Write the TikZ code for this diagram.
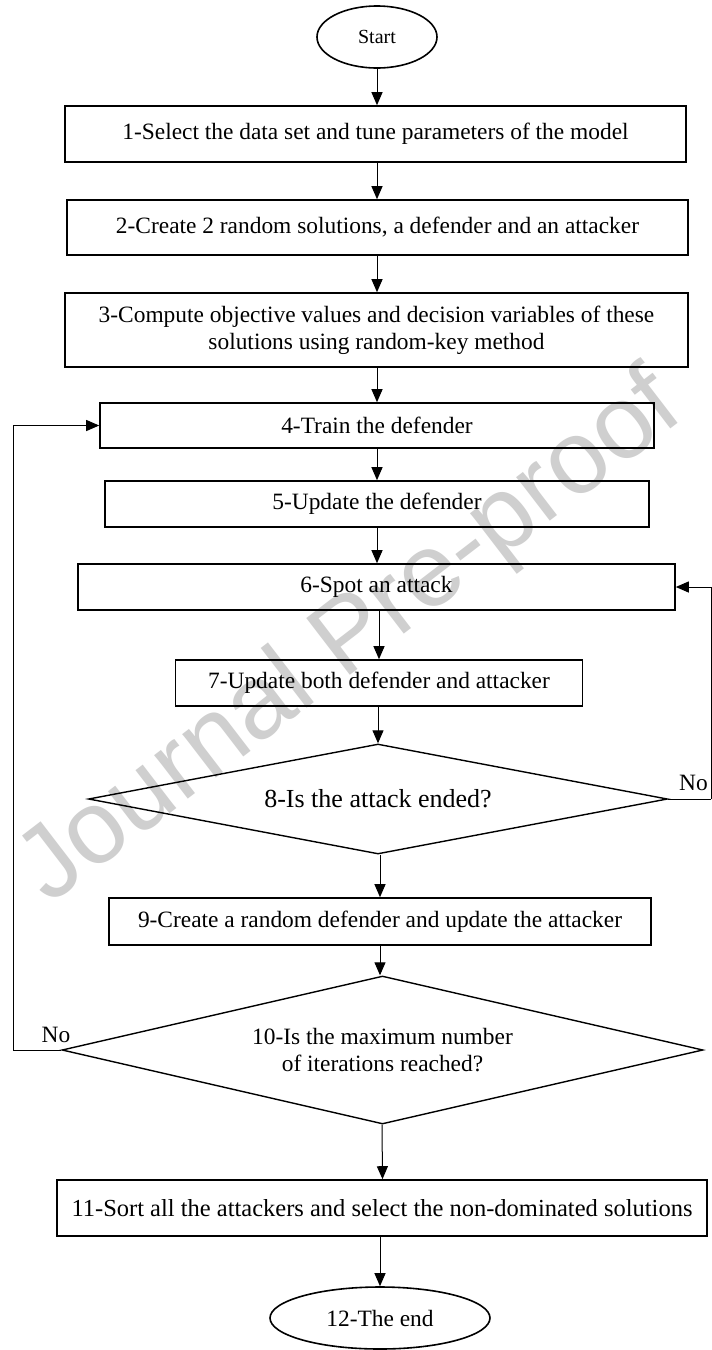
\documentclass[tikz,border=0pt]{standalone}
\usepackage{fontspec}
\setmainfont{Liberation Serif}
\newfontfamily\wmfont{Liberation Sans}
\usetikzlibrary{shapes.geometric,arrows.meta}
\tikzset{
  boxnode/.style={draw, line width=1.6pt, rectangle, inner sep=0pt, align=center},
  termnode/.style={draw, line width=1.6pt, ellipse, inner sep=0pt},
  decnode/.style={draw, line width=1.4pt, diamond, aspect=4, inner sep=0pt, align=center},
  arr/.style={line width=1pt, -{Triangle[length=13pt,width=11pt]}},
  conn/.style={line width=1pt},
  lbl/.style={inner sep=0pt},
  fS/.style={font=\fontsize{20}{24}\selectfont},
  fA/.style={font=\fontsize{23.4}{27}\selectfont},
  fB/.style={font=\fontsize{24.5}{28}\selectfont},
  fC/.style={font=\fontsize{26}{30}\selectfont},
}
\begin{document}
\begin{tikzpicture}[x=1pt,y=-1pt]
\useasboundingbox (0,0) rectangle (712,1350);
\fill[white] (0,0) rectangle (712,1350);
% watermark
\node[rotate=37.5, text=black!19, font=\wmfont\fontsize{104}{104}\selectfont, inner sep=0pt] (wm) at (352,640) {Journal Pre-proof};

\node[termnode, fS, minimum width=120pt, minimum height=62pt] (start) at (377,37) {Start};
\node[boxnode, fA, minimum width=621pt, minimum height=56pt] (b1) at (375.5,134) {1-Select the data set and tune parameters of the model};
\node[boxnode, fA, minimum width=621pt, minimum height=55pt] (b2) at (377.5,227.5) {2-Create 2 random solutions, a defender and an attacker};
\node[boxnode, fA, minimum width=623pt, minimum height=74pt] (b3) at (376.5,330) {3-Compute objective values and decision variables of these\\solutions using random-key method};
\node[boxnode, fA, minimum width=554pt, minimum height=45pt] (b4) at (377,425.5) {4-Train the defender};
\node[boxnode, fA, minimum width=544pt, minimum height=46pt] (b5) at (377,504) {5-Update the defender};
\node[boxnode, fA, minimum width=597pt, minimum height=46pt] (b6) at (376.5,587) {6-Spot an attack};
\node[boxnode, fA, minimum width=407pt, minimum height=46pt] (b7) at (379,683) {7-Update both defender and attacker};
\node[decnode, fC, minimum width=579pt, minimum height=110pt] (d8) at (378,799) {8-Is the attack ended?};
\node[boxnode, fA, minimum width=542pt, minimum height=47pt] (b9) at (380,921.5) {9-Create a random defender and update the attacker};
\node[decnode, fA, minimum width=641pt, minimum height=148pt] (d10) at (382.5,1050) {10-Is the maximum number\\of iterations reached?};
\node[boxnode, fB, minimum width=650pt, minimum height=56pt] (b11) at (382,1208) {11-Sort all the attackers and select the non-dominated solutions};
\node[termnode, fA, minimum width=220pt, minimum height=62pt] (end) at (380,1318) {12-The end};

\draw[arr] (start.south) -- (start.south |- b1.north);
\draw[arr] (b1.south -| start) -- (b2.north -| start);
\draw[arr] (b2.south -| start) -- (b3.north -| start);
\draw[arr] (b3.south -| b4.north) -- (b4.north);
\draw[arr] (b4.south) -- (b5.north);
\draw[arr] (b5.south) -- (b5.south |- b6.north);
\draw[arr] (b6.south -| b7.north) -- (b7.north);
\draw[arr] (b7.south -| d8.north) -- (d8.north);
\draw[arr] (d8.south -| b9.north) -- (b9.north);
\draw[arr] (b9.south -| b9.north) -- (b9.south |- d10.north);
\draw[arr] (d10.south -| b11.north) -- (b11.north -| d10.south);
\draw[arr] (b11.south -| end.north) -- (end.north);

\coordinate (rc) at (711,799);
\draw[conn] (d8.east) -- (rc);
\draw[arr] (rc) |- (b6.east);
\node[lbl, fA, anchor=south west] (no1) at (679,791) {No};

\coordinate (lc) at (13,1050);
\draw[conn] (d10.west) -- (lc);
\draw[arr] (lc) |- (b4.west);
\node[lbl, fA, anchor=south] (no2) at (56,1043) {No};
\end{tikzpicture}
\end{document}
